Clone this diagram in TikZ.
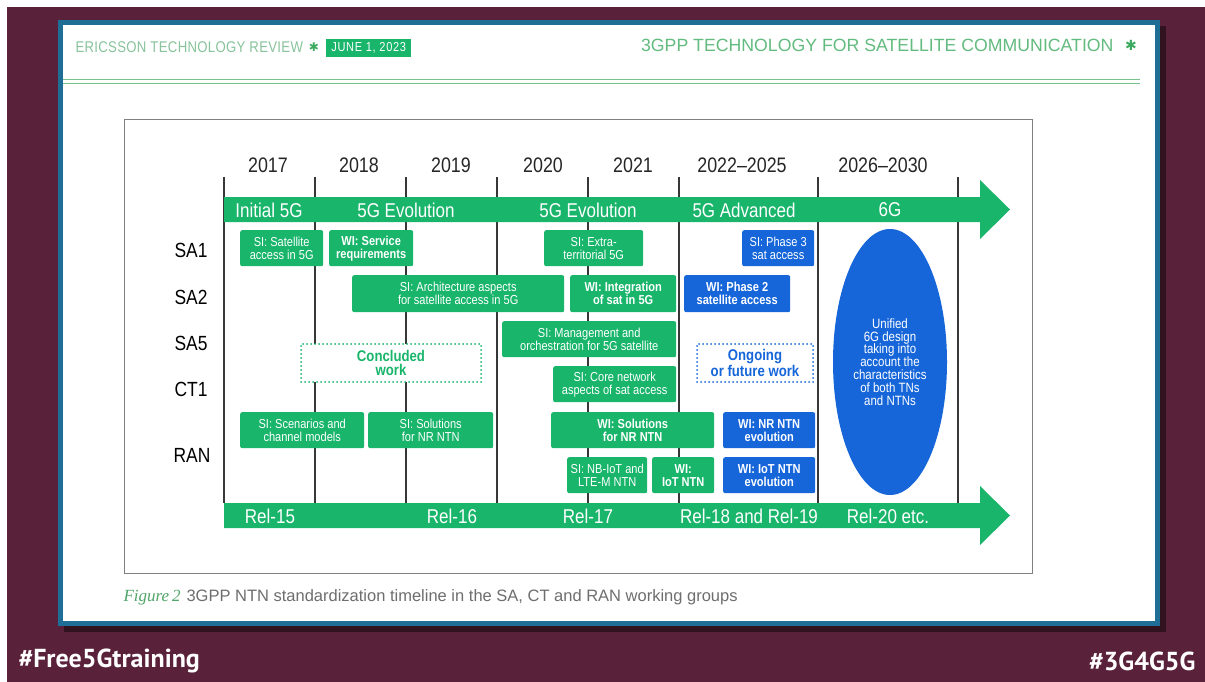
\documentclass[tikz,border=0pt]{standalone}
\usepackage{fontspec}
\setmainfont{Liberation Sans}
\newfontfamily\cf[FakeStretch=0.85]{Liberation Sans}
\newfontfamily\hf[FakeStretch=0.85,LetterSpace=2]{Liberation Sans}
\newfontfamily\df[FakeStretch=0.85,LetterSpace=5]{Liberation Sans}
\newfontfamily\capserif{Liberation Serif}
\newfontfamily\symf{DejaVu Sans}
\newfontfamily\tagf{PT Sans}
\usetikzlibrary{shapes.geometric}

\definecolor{bgmaroon}{RGB}{90,34,58}
\definecolor{panelblue}{RGB}{30,110,150}
\definecolor{ngreen}{RGB}{24,181,107}
\definecolor{nblue}{RGB}{22,102,218}
\definecolor{hdgreen}{RGB}{135,195,155}
\definecolor{hdline}{RGB}{120,195,140}
\definecolor{stargreen}{RGB}{60,170,95}
\definecolor{capgray}{RGB}{110,110,110}
\definecolor{figgreen}{RGB}{80,165,105}
\definecolor{gridgray}{RGB}{55,55,55}

\tikzset{
  greenbox/.style={fill=ngreen, text=white, rounded corners=2pt, align=center,
    inner sep=0pt, anchor=north west, font=\cf\fontsize{13}{13}\selectfont},
  bluebox/.style={greenbox, fill=nblue},
  wi/.style={font=\cf\bfseries\fontsize{13}{13}\selectfont},
  dotbox/.style={fill=white, line width=2pt, line cap=round,
    dash pattern=on 0pt off 4pt, align=center, inner sep=0pt, anchor=north west,
    font=\cf\bfseries\fontsize{15.5}{14.5}\selectfont},
  rowlbl/.style={font=\cf\fontsize{20.5}{20.5}\selectfont},
  yearlbl/.style={font=\cf\fontsize{21}{21}\selectfont, text=black!85},
  bandlbl/.style={text=white, font=\cf\fontsize{20}{20}\selectfont},
  gridline/.style={gridgray, line width=2pt}
}

\begin{document}
\begin{tikzpicture}[x=1pt, y=-1pt]
\useasboundingbox (0,0) rectangle (1205,682);

% slide background
\fill[white] (0,0) rectangle (1205,682);
\fill[bgmaroon] (7,7) rectangle (1205,682);

% article panel
\fill[black, opacity=0.45] (64,26) rectangle (1166,632);
\fill[white] (58,20) rectangle (1160,626);
\draw[panelblue, line width=5pt] (60.5,22.5) rectangle (1157.5,623.5);

% header
\node[anchor=west, text=hdgreen, font=\hf\fontsize{15.5}{15.5}\selectfont] (review) at (72,47) {ERICSSON TECHNOLOGY REVIEW};
\node[text=stargreen, font=\symf\fontsize{12}{12}\selectfont] (staro) at (314,47) {✱};
\node[fill=ngreen, text=white, anchor=north west, minimum width=85, minimum height=18, inner sep=0pt,
  font=\df\fontsize{13}{13}\selectfont] (date) at (326,39) {JUNE 1, 2023};
\node[anchor=east, text=stargreen!80, font=\fontsize{17.7}{17.7}\selectfont] (title) at (1117,45) {3GPP TECHNOLOGY FOR SATELLITE COMMUNICATION};
\node[text=stargreen, font=\symf\fontsize{14}{14}\selectfont] (startw) at (1131,45) {✱};
\draw[hdline, line width=1.4pt] (63,79.5) -- (1140,79.5);
\draw[hdline, line width=1.4pt] (63,83.5) -- (1140,83.5);

% chart frame
\draw[gray, line width=1pt] (124,120) rectangle (1032,573);

% year grid
\draw[gridline]
    (224,177) -- (224,503)  (315,177) -- (315,503)
    (406,177) -- (406,503)  (497,177) -- (497,503)
    (588,177) -- (588,503)  (679,177) -- (679,503)
    (818,177) -- (818,503)  (958,177) -- (958,503);

\node[yearlbl] (y17) at (268,165) {2017};
\node[yearlbl] (y18) at (359,165) {2018};
\node[yearlbl] (y19) at (451,165) {2019};
\node[yearlbl] (y20) at (543,165) {2020};
\node[yearlbl] (y21) at (633,165) {2021};
\node[yearlbl] (y22) at (742,165) {2022–2025};
\node[yearlbl] (y26) at (883,165) {2026–2030};

% technology arrow
\fill[ngreen] (224,197) -- (980,197) -- (980,180) -- (1010,209.5)
    -- (980,239) -- (980,222) -- (224,222) -- cycle;
\node[bandlbl] (init) at (269,210) {Initial 5G};
\node[bandlbl] (evoa) at (406,210) {5G Evolution};
\node[bandlbl] (evob) at (588,210) {5G Evolution};
\node[bandlbl] (adv) at (744,210) {5G Advanced};
\node[bandlbl] (sixg) at (890,210) {6G};

% release arrow
\fill[ngreen] (224,503) -- (980,503) -- (980,486) -- (1010,515.5)
    -- (980,545) -- (980,528) -- (224,528) -- cycle;
\node[bandlbl] (r15) at (270,516) {Rel-15};
\node[bandlbl] (r16) at (452,516) {Rel-16};
\node[bandlbl] (r17) at (588,516) {Rel-17};
\node[bandlbl] (r18) at (749,516) {Rel-18 and Rel-19};
\node[bandlbl] (r20) at (888,516) {Rel-20 etc.};

% working groups
\node[rowlbl] (sa1) at (191,250) {SA1};
\node[rowlbl] (sa2) at (191,297) {SA2};
\node[rowlbl] (sa5) at (191,343) {SA5};
\node[rowlbl] (ct1) at (191,389) {CT1};
\node[rowlbl] (ran) at (192,455) {RAN};

% SA1
\node[greenbox, minimum width=83, minimum height=36] (satacc) at (240,230) {SI: Satellite\\access in 5G};
\node[greenbox, wi, minimum width=84, minimum height=36] (servreq) at (329,230) {WI: Service\\requirements};
\node[greenbox, minimum width=99, minimum height=36] (extra) at (544,230) {SI: Extra-\\territorial 5G};
\node[bluebox, minimum width=72, minimum height=36] (phase3) at (742,230) {SI: Phase 3\\sat access};

% SA2
\node[greenbox, minimum width=212, minimum height=37] (arch) at (352,275) {SI: Architecture aspects\\for satellite access in 5G};
\node[greenbox, wi, minimum width=106, minimum height=37] (integ) at (570,275) {WI: Integration\\of sat in 5G};
\node[bluebox, wi, minimum width=106, minimum height=37] (phase2) at (684,275) {WI: Phase 2\\satellite access};

% SA5 and CT1
\node[greenbox, minimum width=174, minimum height=36] (mgmt) at (502,321) {SI: Management and\\orchestration for 5G satellite};
\node[greenbox, minimum width=123, minimum height=36] (corenet) at (553,366) {SI: Core network\\aspects of sat access};

% legend
\node[dotbox, draw=ngreen, text=ngreen, minimum width=180, minimum height=38] (concl) at (300,343) {Concluded\\work};
\node[dotbox, draw=nblue, text=nblue, minimum width=116, minimum height=38] (ongo) at (696,343) {Ongoing\\or future work};

% RAN
\node[greenbox, minimum width=124, minimum height=36] (scen) at (240,412) {SI: Scenarios and\\channel models};
\node[greenbox, minimum width=125, minimum height=36] (solsi) at (368,412) {SI: Solutions\\for NR NTN};
\node[greenbox, wi, minimum width=163, minimum height=36] (solwi) at (551,412) {WI: Solutions\\for NR NTN};
\node[bluebox, wi, minimum width=92, minimum height=36] (nrevo) at (723,412) {WI: NR NTN\\evolution};
\node[greenbox, minimum width=80, minimum height=36] (nbiot) at (567,457) {SI: NB-IoT and\\LTE-M NTN};
\node[greenbox, wi, minimum width=62, minimum height=36] (iotwi) at (652,457) {WI:\\IoT NTN};
\node[bluebox, wi, minimum width=92, minimum height=36] (iotevo) at (723,457) {WI: IoT NTN\\evolution};

% 6G
\node[ellipse, fill=nblue, text=white, inner sep=0pt, minimum width=114, minimum height=266,
  align=center, font=\cf\fontsize{13.5}{12.9}\selectfont] (unified) at (890,362)
  {Unified\\6G design\\taking into\\account the\\characteristics\\of both TNs\\and NTNs};

% caption
\node[anchor=west, text=capgray, font=\fontsize{16.5}{16.5}\selectfont] (caption) at (120,597)
  {{\capserif\itshape\color{figgreen}\fontsize{17}{17}\selectfont Figure\,2}\hspace{6pt}3GPP NTN standardization timeline in the SA, CT and RAN working groups};

% slide tags
\node[anchor=west, text=white, font=\tagf\bfseries\fontsize{26}{26}\selectfont] (tagl) at (15,661) {\#Free5Gtraining};
\node[anchor=east, text=white, font=\tagf\bfseries\fontsize{26}{26}\selectfont] (tagr) at (1199,661) {\#3G4G5G};

\end{tikzpicture}
\end{document}
